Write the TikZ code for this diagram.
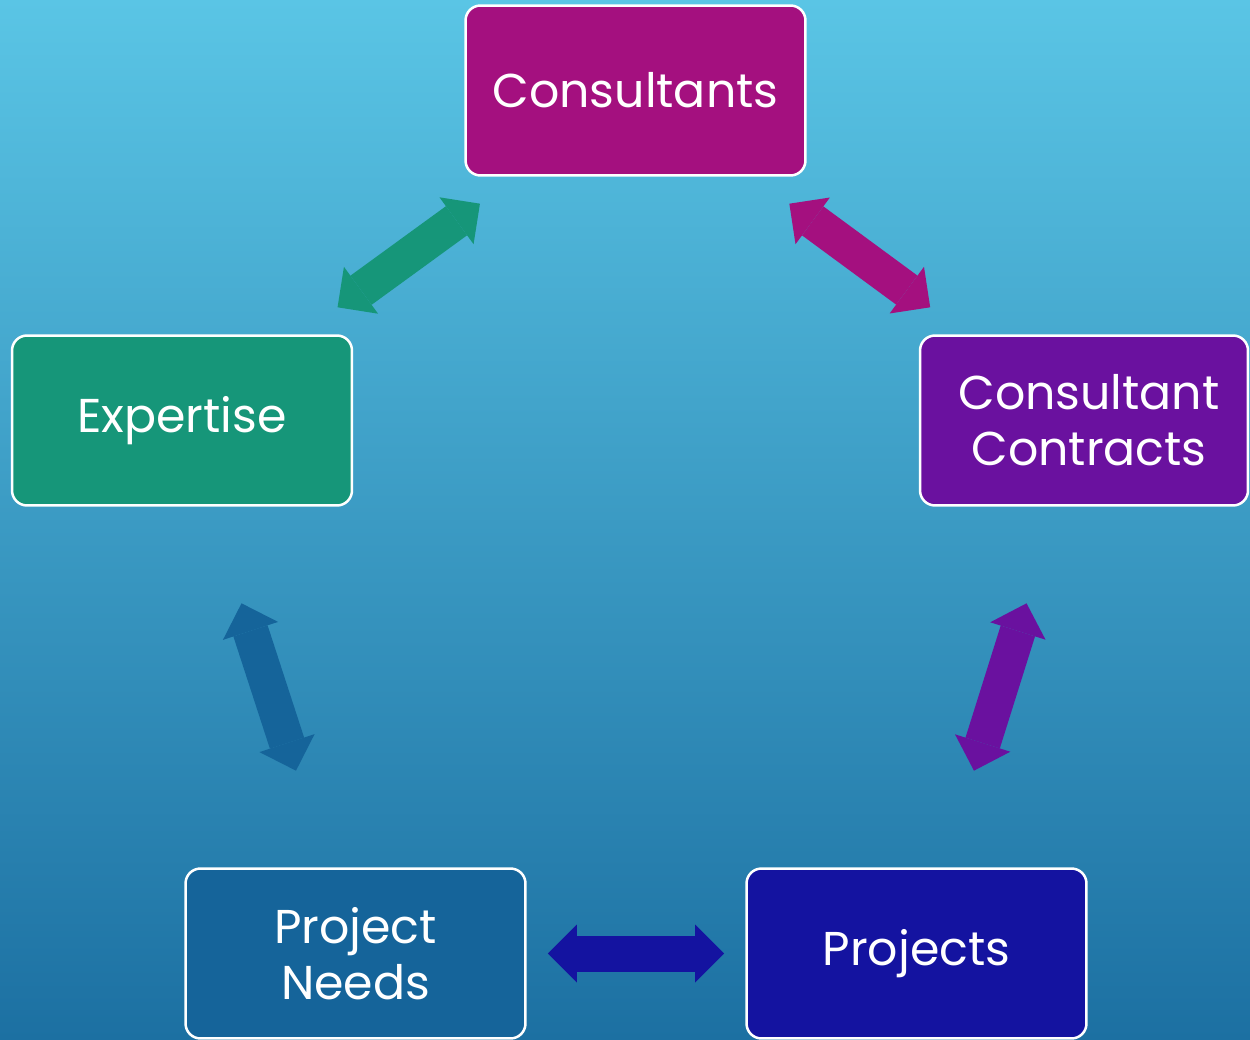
\documentclass[tikz,border=0pt]{standalone}
\usepackage{fontspec}
\setmainfont{Poppins}
\usetikzlibrary{calc,arrows.meta}
\definecolor{bgtop}{HTML}{5AC5E5}
\definecolor{bgbot}{HTML}{1C70A2}
\definecolor{cmag}{HTML}{A4107F}
\definecolor{cgreen}{HTML}{169679}
\definecolor{cpurple}{HTML}{6A119F}
\definecolor{cblue}{HTML}{15649A}
\definecolor{cdark}{HTML}{1413A0}
\tikzset{
  box/.style={draw=white, line width=0.05cm, rounded corners=0.3cm,
    minimum width=6.8cm, minimum height=3.4cm, text=white, align=center,
    font=\fontsize{27}{32}\selectfont},
  bigarrow/.style={line width=0.72cm, draw=#1,
    {Triangle[length=0.58cm 0 0,width=1.16cm 0 0,line width=0pt 0 0]}-{Triangle[length=0.58cm 0 0,width=1.16cm 0 0,line width=0pt 0 0]}}
}
\begin{document}
\begin{tikzpicture}[x=0.02cm,y=-0.02cm]
\useasboundingbox (0,0) rectangle (1250,1040);
\clip (0,0) rectangle (1250,1040);
\shade[top color=bgtop, bottom color=bgbot] (0,0) rectangle (1250,1040);

\node[box, fill=cmag] (cons) at (635.5,90.5) {Consultants};
\node[box, fill=cgreen] (exp) at (182,420.5) {Expertise};
\node[box, fill=cpurple, minimum width=6.56cm] (contr) at (1084,420.5) {\hspace*{0.2cm}Consultant\\\hspace*{0.2cm}Contracts};
\node[box, fill=cblue] (needs) at (355.5,953.5) {Project\\Needs};
\node[box, fill=cdark] (proj) at (916.5,953.5) {Projects};

\draw[bigarrow=cgreen] ($(exp)!0.343!(cons)$) -- ($(exp)!0.657!(cons)$);
\draw[bigarrow=cmag] ($(cons)!0.343!(contr)$) -- ($(cons)!0.657!(contr)$);
\draw[bigarrow=cpurple] ($(contr)!0.343!(proj)$) -- ($(contr)!0.657!(proj)$);
\draw[bigarrow=cdark] ($(needs)!0.343!(proj)$) -- ($(needs)!0.657!(proj)$);
\draw[bigarrow=cblue] ($(exp)!0.343!(needs)$) -- ($(exp)!0.657!(needs)$);
\end{tikzpicture}
\end{document}
